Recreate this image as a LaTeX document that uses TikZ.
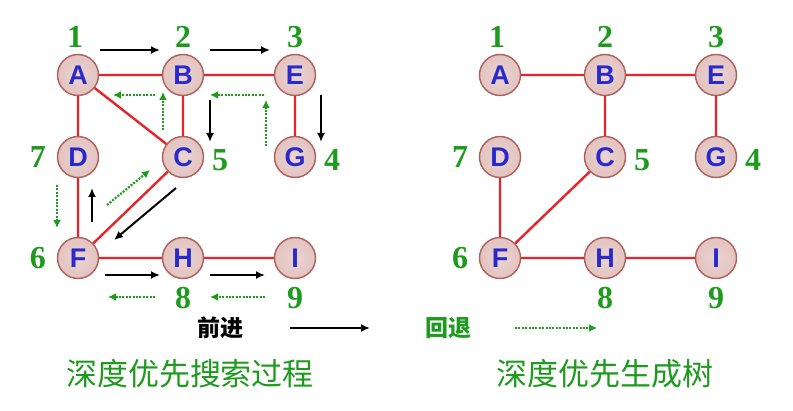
\documentclass[tikz,border=0pt]{standalone}
\usepackage{fontspec}
\setmainfont{Liberation Serif}
\setsansfont{Liberation Sans}
\newfontfamily\cjk{Noto Sans CJK SC}
\usetikzlibrary{arrows.meta}
\definecolor{nfill}{HTML}{DDB8B4}
\definecolor{nline}{HTML}{B0605A}
\definecolor{lbl}{HTML}{2A2ACC}
\definecolor{grn}{HTML}{1E9A1E}
\definecolor{ered}{HTML}{E8242A}
\begin{document}
\begin{tikzpicture}[x=1pt,y=-1pt,
  vtx/.style={circle,minimum size=41pt,inner sep=0pt,draw=nline,line width=1.4pt,
    inner color=nfill!60,outer color=nfill!100!black!85,font=\sffamily\bfseries\fontsize{27}{27}\selectfont,text=lbl},
  num/.style={font=\rmfamily\bfseries\fontsize{32}{32}\selectfont,text=grn},
  edge/.style={ered,line width=2.4pt},
  fwd/.style={black,line width=2pt,-{Latex[length=9pt,width=8pt]}},
  back/.style={grn,line width=2.2pt,dash pattern=on 2pt off 1.4pt,-{Latex[length=8pt,width=8pt]}},
  captxt/.style={font=\cjk\fontsize{31}{31}\selectfont,text=grn}]
\useasboundingbox (0,0) rectangle (793,411);
% left graph
\node[vtx] (A) at (78,75) {A};
\node[vtx] (B) at (183,75) {B};
\node[vtx] (E) at (295,75) {E};
\node[vtx] (D) at (78,157) {D};
\node[vtx] (C) at (183,157) {C};
\node[vtx] (G) at (295,157) {G};
\node[vtx] (F) at (78,258) {F};
\node[vtx] (H) at (183,258) {H};
\node[vtx] (I) at (295,258) {I};
\draw[edge] (A)--(B) (B)--(E) (A)--(C) (B)--(C) (E)--(G) (A)--(D) (D)--(F) (C)--(F) (F)--(H) (H)--(I);
\node[num] (n1) at (75,37) {1};
\node[num] (n2) at (183,37) {2};
\node[num] (n3) at (295,37) {3};
\node[num] (n7) at (38,157) {7};
\node[num] (n5) at (220,160) {5};
\node[num] (n4) at (332,160) {4};
\node[num] (n6) at (38,258) {6};
\node[num] (n8) at (183,298) {8};
\node[num] (n9) at (295,298) {9};
% forward arrows
\coordinate (f1a) at (100,50); \coordinate (f1b) at (160,50);
\coordinate (f2a) at (210,50); \coordinate (f2b) at (270,50);
\coordinate (f3a) at (321,95); \coordinate (f3b) at (321,142);
\coordinate (f4a) at (210,100); \coordinate (f4b) at (210,142);
\coordinate (f5a) at (176,188); \coordinate (f5b) at (114,240);
\coordinate (f6a) at (92,222); \coordinate (f6b) at (92,188);
\coordinate (f7a) at (105,275); \coordinate (f7b) at (160,275);
\coordinate (f8a) at (210,275); \coordinate (f8b) at (265,275);
\foreach \s/\e in {f1a/f1b,f2a/f2b,f3a/f3b,f4a/f4b,f5a/f5b,f6a/f6b,f7a/f7b,f8a/f8b} \draw[fwd] (\s)--(\e);
% back arrows
\coordinate (b1a) at (266,146); \coordinate (b1b) at (266,100);
\coordinate (b2a) at (264,95); \coordinate (b2b) at (210,95);
\coordinate (b3a) at (163,130); \coordinate (b3b) at (163,92);
\coordinate (b4a) at (155,95); \coordinate (b4b) at (113,95);
\coordinate (b5a) at (107,205); \coordinate (b5b) at (150,170);
\coordinate (b6a) at (57,185); \coordinate (b6b) at (57,228);
\coordinate (b7a) at (155,297); \coordinate (b7b) at (108,297);
\coordinate (b8a) at (265,297); \coordinate (b8b) at (210,297);
\foreach \s/\e in {b1a/b1b,b2a/b2b,b3a/b3b,b4a/b4b,b5a/b5b,b6a/b6b,b7a/b7b,b8a/b8b} \draw[back] (\s)--(\e);
% right tree
\node[vtx] (A2) at (500,75) {A};
\node[vtx] (B2) at (605,75) {B};
\node[vtx] (E2) at (716,75) {E};
\node[vtx] (D2) at (500,157) {D};
\node[vtx] (C2) at (605,157) {C};
\node[vtx] (G2) at (716,157) {G};
\node[vtx] (F2) at (500,258) {F};
\node[vtx] (H2) at (605,258) {H};
\node[vtx] (I2) at (716,258) {I};
\draw[edge] (A2)--(B2) (B2)--(E2) (B2)--(C2) (E2)--(G2) (C2)--(F2) (D2)--(F2) (F2)--(H2) (H2)--(I2);
\node[num] (m1) at (497,37) {1};
\node[num] (m2) at (605,37) {2};
\node[num] (m3) at (716,37) {3};
\node[num] (m7) at (460,157) {7};
\node[num] (m5) at (642,160) {5};
\node[num] (m4) at (753,160) {4};
\node[num] (m6) at (460,258) {6};
\node[num] (m8) at (605,298) {8};
\node[num] (m9) at (716,298) {9};
% legend
\node[font=\cjk\bfseries\fontsize{23}{23}\selectfont] (lf) at (220,328) {前进};
\coordinate (lfa) at (290,328); \coordinate (lfb) at (370,328);
\draw[fwd] (lfa)--(lfb);
\node[font=\cjk\bfseries\fontsize{23}{23}\selectfont,text=grn] (lb) at (448,328) {回退};
\coordinate (lba) at (515,328); \coordinate (lbb) at (597,328);
\draw[back] (lba)--(lbb);
\node[captxt] (c1) at (190,374) {深度优先搜索过程};
\node[captxt] (c2) at (605,374) {深度优先生成树};
\end{tikzpicture}
\end{document}
